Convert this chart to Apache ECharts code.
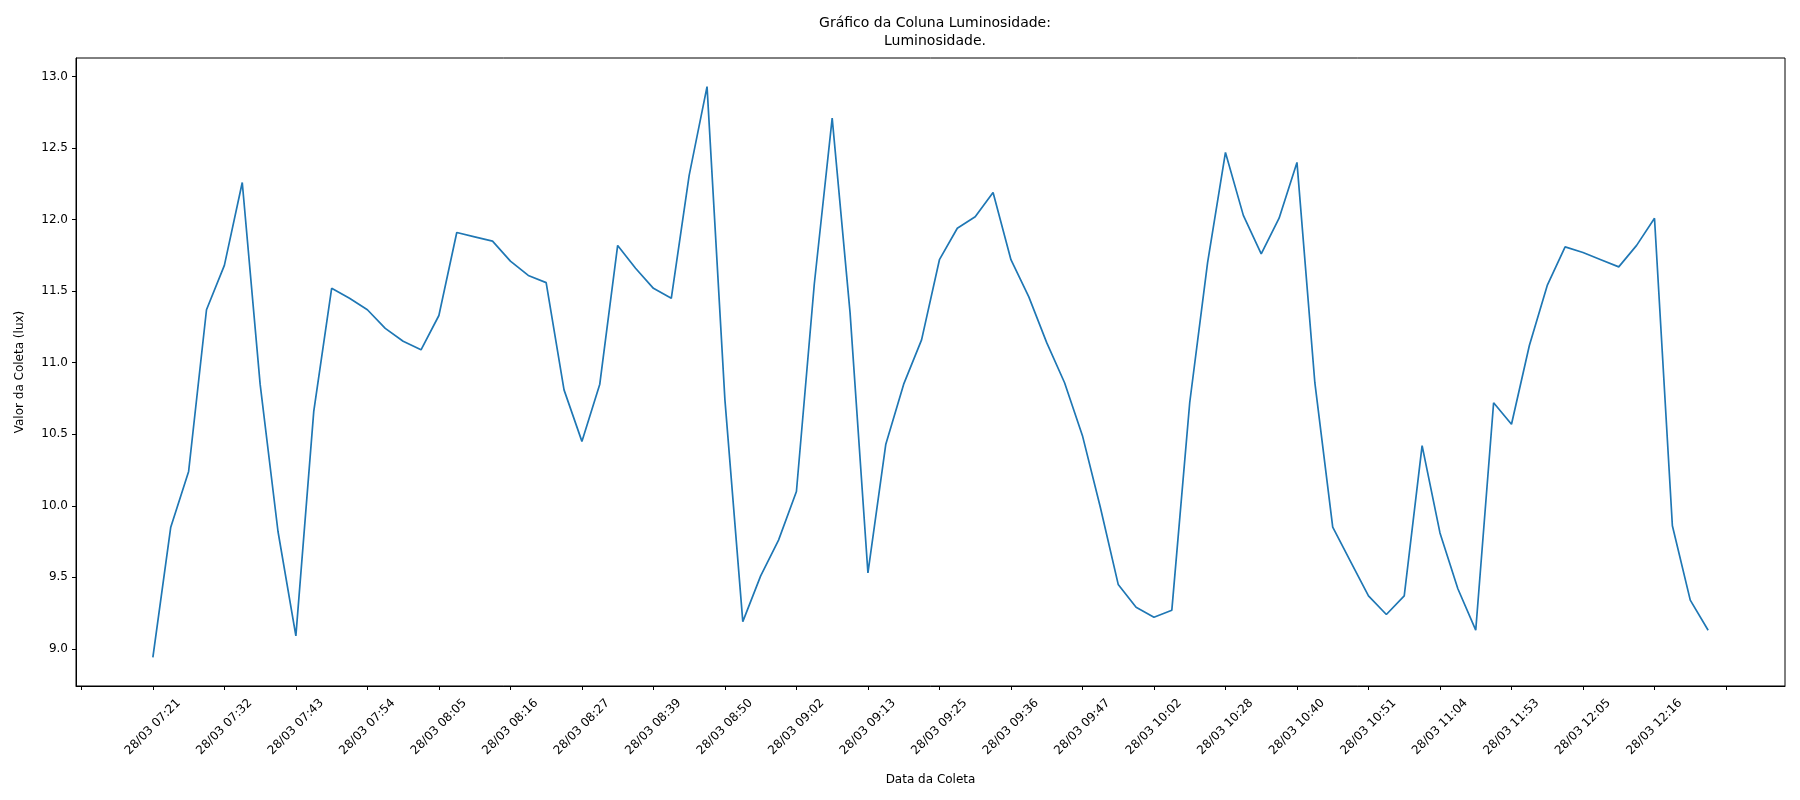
<!DOCTYPE html>
<html><head><meta charset="utf-8">
<script src="https://cdn.jsdelivr.net/npm/echarts@6/dist/echarts.min.js"></script>
<style>html,body{margin:0;background:#fff}#c{width:1800px;height:800px}</style>
</head><body><div id="c"></div>
<script>
// Luminosidade por coleta (índice de coleta -> valor em lux)
const luminosidade = [
  8.94, 9.85, 10.24, 11.37, 11.68, 12.26, 10.85, 9.82, 9.09, 10.66,
  11.52, 11.45, 11.37, 11.24, 11.15, 11.09, 11.33, 11.91, 11.88, 11.85,
  11.71, 11.61, 11.56, 10.81, 10.45, 10.85, 11.82, 11.66, 11.52, 11.45,
  12.31, 12.93, 10.74, 9.19, 9.51, 9.76, 10.10, 11.55, 12.71, 11.35,
  9.53, 10.43, 10.85, 11.16, 11.72, 11.94, 12.02, 12.19, 11.72, 11.46,
  11.14, 10.86, 10.49, 9.99, 9.45, 9.29, 9.22, 9.27, 10.72, 11.70,
  12.47, 12.03, 11.76, 12.01, 12.40, 10.86, 9.85, 9.61, 9.37, 9.24,
  9.37, 10.42, 9.81, 9.42, 9.13, 10.72, 10.57, 11.12, 11.54, 11.81,
  11.77, 11.72, 11.67, 11.82, 12.01, 9.86, 9.34, 9.13
];
// rótulos a cada 4 coletas
const tickLabels = [
  '28/03 07:21', '28/03 07:32', '28/03 07:43', '28/03 07:54', '28/03 08:05', '28/03 08:16',
  '28/03 08:27', '28/03 08:39', '28/03 08:50', '28/03 09:02', '28/03 09:13', '28/03 09:25',
  '28/03 09:36', '28/03 09:47', '28/03 10:02', '28/03 10:28', '28/03 10:40', '28/03 10:51',
  '28/03 11:04', '28/03 11:53', '28/03 12:05', '28/03 12:16'
];
const yTicks = [9.0, 9.5, 10.0, 10.5, 11.0, 11.5, 12.0, 12.5, 13.0];

const xTicks = [];
for (let i = -4; i <= 88; i += 4) xTicks.push(i);
const xLabelPos = tickLabels.map((_, i) => i * 4);

const font = 'DejaVu Sans';
const chart = echarts.init(document.getElementById('c'));
chart.setOption({
  animation: false,
  title: {
    text: 'Gráfico da Coluna Luminosidade:\nLuminosidade.',
    left: 930, top: 9, textAlign: 'center',
    textStyle: { fontFamily: font, fontSize: 14, fontWeight: 'normal', color: '#000', lineHeight: 18 }
  },
  grid: { left: 76, right: 15, top: 58, bottom: 114 },
  xAxis: {
    type: 'value', min: -4.3, max: 91.3,
    name: 'Data da Coleta', nameLocation: 'middle', nameGap: 88,
    nameTextStyle: { fontFamily: font, fontSize: 12, color: '#000' },
    axisLine: { onZero: false, lineStyle: { color: '#000' } },
    axisTick: { customValues: xTicks, length: 4, lineStyle: { color: '#000' } },
    axisLabel: {
      customValues: xLabelPos, rotate: 45, margin: 41,
      align: 'center', verticalAlign: 'middle',
      fontFamily: font, fontSize: 12, color: '#000',
      formatter: v => tickLabels[Math.round(v / 4)] || ''
    },
    splitLine: { show: false }
  },
  yAxis: {
    type: 'value', min: 8.74, max: 13.13,
    name: 'Valor da Coleta (lux)', nameLocation: 'middle', nameGap: 50,
    nameTextStyle: { fontFamily: font, fontSize: 12, color: '#000' },
    axisLine: { show: true, onZero: false, lineStyle: { color: '#000' } },
    axisTick: { show: true, customValues: yTicks, length: 4, lineStyle: { color: '#000' } },
    axisLabel: {
      customValues: yTicks, fontFamily: font, fontSize: 12, color: '#000',
      formatter: v => v.toFixed(1)
    },
    splitLine: { show: false }
  },
  series: [{
    type: 'line', showSymbol: false,
    data: luminosidade.map((v, i) => [i, v]),
    lineStyle: { color: '#1f77b4', width: 1.7 }
  }]
});
// moldura superior/direita
chart.setOption({
  graphic: [{
    type: 'rect', shape: { x: 76, y: 58, width: 1800 - 76 - 15, height: 800 - 58 - 114 },
    style: { fill: 'none', stroke: '#000', lineWidth: 1 }, silent: true
  }]
});
</script></body></html>
